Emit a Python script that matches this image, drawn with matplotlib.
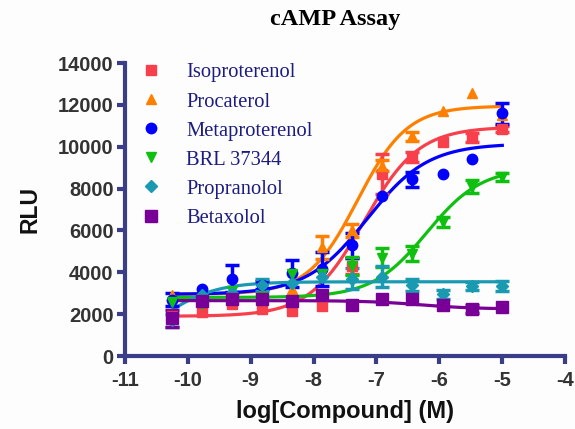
import numpy as np
import matplotlib.pyplot as plt

plt.rcParams['axes.unicode_minus'] = False

# log concentrations (3-fold dilutions, top 10 uM)
logc = [-10.25, -9.77, -9.29, -8.82, -8.35, -7.86, -7.39, -6.91, -6.43, -5.95, -5.48, -5.0]

names = ["Isoproterenol", "Procaterol", "Metaproterenol", "BRL 37344", "Propranolol", "Betaxolol"]

iso_y = [1900, 2100, 2500, 2250, 2150, 2400, 4300, 8700, 9500, 10230, 10450, 10850]
iso_e = [0, 0, 0, 0, 0, 0, 400, 950, 250, 0, 200, 150]
pro_y = [2900, 2850, 3000, 3000, 3200, 5200, 6000, 9100, 10500, 11700, 12550, 11500]
pro_e = [0, 0, 0, 0, 0, 550, 300, 250, 200, 0, 0, 0]
met_y = [2700, 3200, 3700, 3400, 3950, 4150, 5300, 7650, 8450, 8700, 9400, 11600]
met_e = [300, 0, 650, 200, 650, 800, 600, 0, 350, 0, 0, 500]
brl_y = [2600, 2500, 3100, 2800, 3900, 3900, 4300, 4700, 4900, 6400, 8100, 8550]
brl_e = [0, 0, 0, 0, 0, 0, 450, 450, 350, 250, 300, 200]
prop_y = [1700, 2900, 3000, 3400, 3500, 3800, 3700, 3800, 3400, 2950, 3350, 3350]
prop_e = [300, 0, 0, 300, 0, 0, 500, 500, 300, 200, 200, 250]
bet_y = [1800, 2650, 2750, 2750, 2650, 2900, 2450, 2750, 2750, 2450, 2250, 2350]
bet_e = [400, 0, 0, 0, 0, 0, 0, 0, 0, 0, 200, 0]

# fitted 4PL parameters: bottom, top, logEC50, hill
fits = [
    (1900, 10950, -7.2, 1.0),
    (2950, 11950, -7.3, 1.1),
    (2950, 10150, -7.15, 0.9),
    (2800, 9000, -6.2, 1.0),
    (0, 3550, -10.46, 1.0),
    (2650, 2250, -6.3, 1.0),
]

ys = [iso_y, pro_y, met_y, brl_y, prop_y, bet_y]
es = [iso_e, pro_e, met_e, brl_e, prop_e, bet_e]
colors = ["#f8404c", "#ff8000", "#0000ff", "#10c010", "#1a9ab0", "#780096"]
markers = ["s", "^", "o", "v", "D", "s"]
msizes = [7, 7, 7.5, 7, 6, 8]

spine = "#3a3d88"

fig = plt.figure(figsize=(5.75, 4.29), dpi=100, facecolor="#fdfdfd")
ax = fig.add_axes([0.217, 0.170, 0.766, 0.683], facecolor="#fdfdfd")

xx = np.linspace(min(logc), max(logc), 300)
handles = []
for i in range(6):
    b, t, ec, h = fits[i]
    curve = b + (t - b) / (1 + 10 ** ((ec - xx) * h))
    ax.plot(xx, curve, color=colors[i], lw=2.3, zorder=2)
for i in range(6):
    x = np.array(logc)
    y = np.array(ys[i])
    e = np.array(es[i])
    m = e > 0
    ax.errorbar(x[m], y[m], yerr=e[m], fmt="none", ecolor=colors[i],
                elinewidth=2.5, capsize=5, capthick=2.5, zorder=3)
    hd, = ax.plot(x, y, ls="none", marker=markers[i], ms=msizes[i],
                  color=colors[i], mec=colors[i], zorder=4, label=names[i])
    handles.append(hd)

ax.set_xlim(-11, -4)
ax.set_ylim(0, 14000)
ax.set_xticks(range(-11, -3))
ax.set_yticks(range(0, 14001, 2000))

for s in ["top", "right"]:
    ax.spines[s].set_visible(False)
for s in ["left", "bottom"]:
    ax.spines[s].set_color(spine)
    ax.spines[s].set_linewidth(3)
ax.tick_params(direction="out", length=6, width=3, color=spine,
               labelsize=14.5, labelcolor="#333333")
ax.tick_params(axis="x", pad=5)
ax.tick_params(axis="y", pad=2)
for lab in ax.get_xticklabels() + ax.get_yticklabels():
    lab.set_fontweight("bold")
    lab.set_family("Liberation Sans")

ax.set_xlabel("log[Compound] (M)", fontsize=17, fontweight="bold",
              family="Liberation Sans", color="#111111", labelpad=7)
ax.set_ylabel("RLU", fontsize=16.5, fontweight="bold",
              family="Liberation Sans", color="#111111", labelpad=12)

fig.text(0.583, 0.955, "cAMP Assay", ha="center", va="center",
         fontsize=17.5, fontweight="bold", family="Liberation Serif", color="black")

leg = ax.legend(handles=handles, loc="upper left", frameon=False,
                bbox_to_anchor=(-0.01, 1.063), handletextpad=1.1,
                labelspacing=0.47, handlelength=1.2,
                prop={"family": "Liberation Serif", "size": 14.8})
for txt in leg.get_texts():
    txt.set_color("#1c1c80")

fig.savefig("out.png", dpi=100, facecolor=fig.get_facecolor())
